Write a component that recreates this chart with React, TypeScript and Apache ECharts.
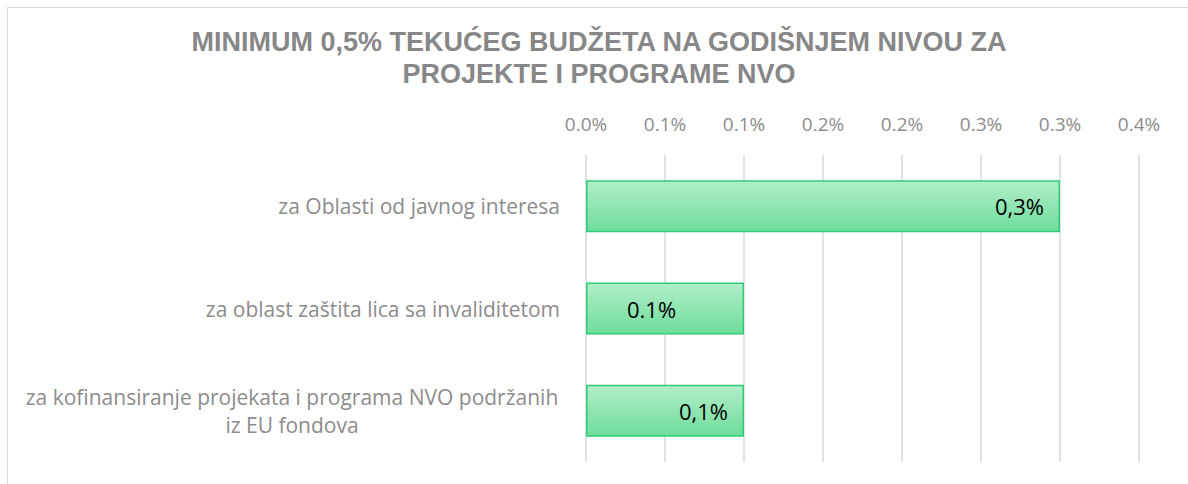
import React, { useEffect, useRef } from "react";
import * as echarts from "echarts";

const titleText = "MINIMUM 0,5% TEKUĆEG BUDŽETA NA GODIŠNJEM NIVOU ZA\nPROJEKTE I PROGRAME NVO";
const categories = [
  "za Oblasti od javnog interesa",
  "za oblast zaštita lica sa invaliditetom",
  "za kofinansiranje projekata i programa NVO podržanih\niz EU fondova",
];
const values = [0.3, 0.1, 0.1];
const valueLabels = ["0,3%", "0.1%", "0,1%"];

export default function App() {
  const ref = useRef<HTMLDivElement>(null);
  useEffect(() => {
    const chart = echarts.init(ref.current!, null, { renderer: "svg" });
    const font = "Open Sans";
    chart.setOption({
      animation: false,
      backgroundColor: "#ffffff",
      title: {
        text: titleText,
        left: 594,
        top: 21,
        textAlign: "center",
        textStyle: {
          fontFamily: "Liberation Sans",
          fontWeight: "bold",
          fontSize: 27,
          lineHeight: 32,
          color: "#878787",
        },
      },
      graphic: [
        {
          type: "rect",
          shape: { x: 7.5, y: 7.5, width: 1300, height: 600 },
          style: { fill: "none", stroke: "#d9d9d9", lineWidth: 1 },
          silent: true,
        },
      ],
      grid: { left: 586, right: 49, top: 155, bottom: 22, containLabel: false },
      xAxis: {
        type: "value",
        position: "top",
        min: 0,
        max: 0.35,
        interval: 0.05,
        axisLine: { show: false },
        axisTick: { show: false },
        splitLine: { show: true, lineStyle: { color: "#d9d9d9", width: 1.5 } },
        axisLabel: {
          margin: 22,
          fontFamily: font,
          fontSize: 19,
          color: "#8c8c8c",
          formatter: (v: number) => (Math.round(v * 10 + 1e-9) / 10).toFixed(1) + "%",
        },
      },
      yAxis: {
        type: "category",
        inverse: true,
        data: categories,
        axisLine: { show: false },
        axisTick: { show: false },
        axisLabel: {
          margin: 26,
          fontFamily: font,
          fontSize: 21,
          color: "#8c8c8c",
          lineHeight: 28,
          formatter: (v: string) => {
            const parts = v.split("\n");
            if (parts.length > 1) return parts.map((p) => "{c|" + p + "}").join("\n");
            return v;
          },
          rich: {
            c: { width: 536, align: "center", fontFamily: font, fontSize: 21, color: "#8c8c8c", lineHeight: 28 },
          },
        },
      },
      series: [
        {
          type: "bar",
          barWidth: 52,
          data: values.map((v, i) => ({
            value: v,
            label: {
              show: true,
              position: i === 1 ? "insideLeft" : "insideRight",
              distance: i === 1 ? 41 : 16,
              formatter: valueLabels[i],
              fontFamily: font,
              fontSize: 22,
              color: "#000000",
            },
          })),
          itemStyle: {
            color: new echarts.graphic.LinearGradient(0, 0, 0, 1, [
              { offset: 0, color: "#b2edca" },
              { offset: 1, color: "#6edd9b" },
            ]),
            borderColor: "#2ecb78",
            borderWidth: 1.5,
          },
        },
      ],
    });
    return () => chart.dispose();
  }, []);
  return <div ref={ref} style={{ position: "fixed", left: 0, top: 0, width: 1188, height: 484 }} />;
}
